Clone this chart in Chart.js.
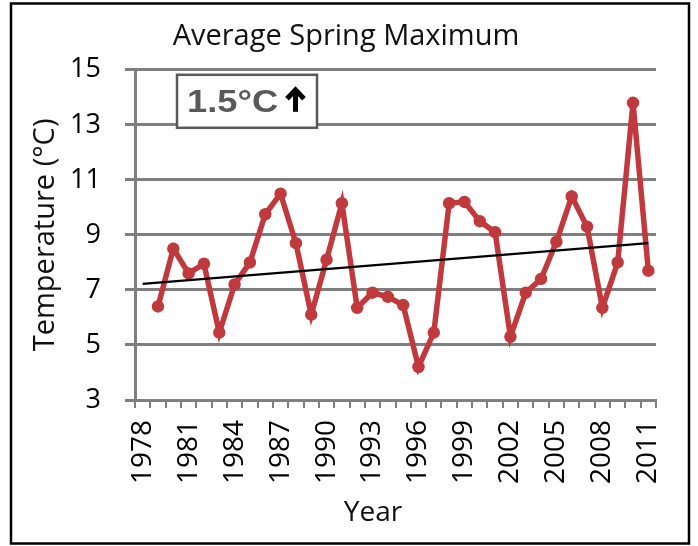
<!DOCTYPE html>
<html><head><meta charset="utf-8">
<script src="https://cdn.jsdelivr.net/npm/chart.js@4.4.1/dist/chart.umd.min.js"></script>
<style>html,body{margin:0;padding:0;background:#fff;}</style>
</head><body>
<canvas id="c" width="698" height="546"></canvas>
<script>
const years = ['1978','1979','1980','1981','1982','1983','1984','1985','1986','1987','1988','1989','1990','1991','1992','1993','1994','1995','1996','1997','1998','1999','2000','2001','2002','2003','2004','2005','2006','2007','2008','2009','2010','2011'];
const temps = [null, 6.4, 8.5, 7.6, 7.95, 5.45, 7.2, 8.0, 9.75, 10.5, 8.7, 6.1, 8.1, 10.15, 6.35, 6.9, 6.75, 6.45, 4.2, 5.45, 10.15, 10.2, 9.5, 9.1, 5.3, 6.9, 7.4, 8.75, 10.4, 9.3, 6.35, 8.0, 13.8, 7.7];
const trendYears = ['1978', '2011'];
const trendValues = [7.22, 8.70];
const yMin = 3, yMax = 15, yStep = 2;
const labelEvery = 3;
const chartTitle = 'Average Spring Maximum';
const xTitle = 'Year';
const yTitle = 'Temperature (°C)';
const annotationText = '1.5°C';

const FONT = "'Open Sans', 'DejaVu Sans', sans-serif";
const GRID = '#7f7f7f';

const decor = {
  id: 'decor',
  beforeDraw(chart) {
    const ctx = chart.ctx;
    ctx.save(); ctx.fillStyle = '#fff'; ctx.fillRect(0, 0, chart.width, chart.height); ctx.restore();
  },
  afterDraw(chart) {
    const ctx = chart.ctx, a = chart.chartArea;
    ctx.save();
    ctx.strokeStyle = '#000'; ctx.lineWidth = 2.5;
    ctx.strokeRect(11, 3.5, 678, 540);
    // x axis title
    ctx.fillStyle = '#111';
    ctx.font = "28px " + FONT;
    ctx.textAlign = 'center'; ctx.textBaseline = 'middle';
    ctx.fillText(xTitle, a.left + 238, a.bottom + 113);
    // annotation box
    const bx = a.left + 42, by = a.top + 5, bw = 140, bh = 53;
    ctx.fillStyle = '#fff'; ctx.fillRect(bx, by, bw, bh);
    ctx.strokeStyle = '#595959'; ctx.lineWidth = 2.5; ctx.strokeRect(bx, by, bw, bh);
    ctx.fillStyle = '#595959';
    ctx.font = "bold 31px 'Liberation Sans', Arial, sans-serif";
    ctx.textBaseline = 'alphabetic'; ctx.textAlign = 'left';
    ctx.save(); ctx.translate(bx + 10, by + 37); ctx.scale(1.17, 1); ctx.fillText(annotationText, 0, 0); ctx.restore();
    const ax = bx + 118.5, top = by + 13, bottom = by + 37;
    ctx.strokeStyle = '#000'; ctx.lineWidth = 5; ctx.lineCap = 'butt'; ctx.lineJoin = 'miter';
    ctx.beginPath(); ctx.moveTo(ax, bottom); ctx.lineTo(ax, top + 3); ctx.stroke();
    ctx.beginPath(); ctx.moveTo(ax - 8.5, top + 11); ctx.lineTo(ax, top + 2); ctx.lineTo(ax + 8.5, top + 11); ctx.stroke();
    ctx.restore();
  }
};

new Chart(document.getElementById('c'), {
  type: 'line',
  data: {
    labels: years,
    datasets: [
      {
        label: 'Trend',
        data: trendYears.map((y, i) => ({ x: y, y: trendValues[i] })),
        borderColor: '#000', borderWidth: 2.2, pointRadius: 0, tension: 0, fill: false
      },
      {
        label: 'Average Spring Maximum',
        data: temps,
        borderColor: '#c0393d', backgroundColor: '#c0393d',
        borderWidth: 5.5, pointRadius: 3.5, pointBackgroundColor: '#c0393d', pointBorderColor: '#c0393d',
        tension: 0, fill: false, spanGaps: false
      }
    ]
  },
  options: {
    responsive: false, animation: false, devicePixelRatio: 1,
    layout: { padding: { left: 36, right: 42, top: 0, bottom: 14 } },
    plugins: {
      legend: { display: false }, tooltip: { enabled: false },
      title: { display: true, text: chartTitle, color: '#111', font: { family: FONT, size: 29, weight: 'normal' }, padding: { top: 19, bottom: 16 } }
    },
    scales: {
      x: {
        type: 'category', offset: true,
        grid: { offset: true, drawOnChartArea: false, drawTicks: true, tickLength: 8, color: GRID, lineWidth: 2 },
        border: { display: true, color: GRID, width: 3 },
        ticks: {
          autoSkip: false, maxRotation: 90, minRotation: 90, padding: 12, color: '#000',
          font: { family: FONT, size: 28 },
          callback: function (v, i) { return i % labelEvery === 0 ? this.getLabelForValue(v) : ''; }
        },
        title: { display: false },
        afterFit(s) { s.height = 132; }
      },
      y: {
        min: yMin, max: yMax,
        grid: { color: GRID, lineWidth: 3, tickLength: 10, drawTicks: true },
        border: { display: true, color: GRID, width: 3 },
        ticks: { stepSize: yStep, padding: 24, color: '#000', font: { family: FONT, size: 27 } },
        title: { display: true, text: yTitle, color: '#111', font: { family: FONT, size: 29 }, padding: { top: -8, bottom: 4 } },
        afterFit(s) { s.width = 99; }
      }
    }
  },
  plugins: [decor]
});
</script>
</body></html>
